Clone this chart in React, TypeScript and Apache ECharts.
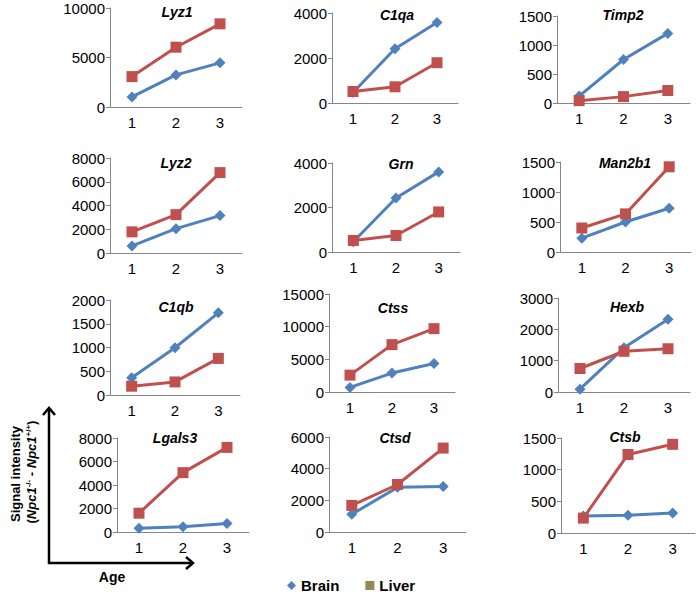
import React, { useEffect, useRef } from "react";
import * as echarts from "echarts";

// ---- Data ----
const ages = ["1", "2", "3"];
const genes = ["Lyz1", "C1qa", "Timp2", "Lyz2", "Grn", "Man2b1", "C1qb", "Ctss", "Hexb", "Lgals3", "Ctsd", "Ctsb"];

const lyz1Brain = [1020, 3240, 4460];
const lyz1Liver = [3070, 6040, 8400];
const c1qaBrain = [470, 2410, 3580];
const c1qaLiver = [510, 720, 1790];
const timp2Brain = [120, 750, 1200];
const timp2Liver = [40, 110, 215];
const lyz2Brain = [600, 2050, 3150];
const lyz2Liver = [1780, 3230, 6770];
const grnBrain = [460, 2430, 3600];
const grnLiver = [520, 740, 1800];
const man2b1Brain = [230, 500, 730];
const man2b1Liver = [400, 635, 1420];
const c1qbBrain = [365, 995, 1730];
const c1qbLiver = [185, 275, 770];
const ctssBrain = [700, 2900, 4350];
const ctssLiver = [2580, 7250, 9700];
const hexbBrain = [90, 1410, 2320];
const hexbLiver = [750, 1300, 1380];
const lgals3Brain = [320, 450, 720];
const lgals3Liver = [1600, 5050, 7200];
const ctsdBrain = [1120, 2820, 2880];
const ctsdLiver = [1680, 3000, 5300];
const ctsbBrain = [270, 280, 315];
const ctsbLiver = [235, 1240, 1400];

const brainData = [lyz1Brain, c1qaBrain, timp2Brain, lyz2Brain, grnBrain, man2b1Brain, c1qbBrain, ctssBrain, hexbBrain, lgals3Brain, ctsdBrain, ctsbBrain];
const liverData = [lyz1Liver, c1qaLiver, timp2Liver, lyz2Liver, grnLiver, man2b1Liver, c1qbLiver, ctssLiver, hexbLiver, lgals3Liver, ctsdLiver, ctsbLiver];

// y-axis tick settings per panel
const yMax = [10000, 4000, 1500, 8000, 4000, 1500, 2000, 15000, 3000, 8000, 6000, 1500];
const yStep = [5000, 2000, 500, 2000, 2000, 500, 500, 5000, 1000, 2000, 2000, 500];

// ---- Layout ----
const layout = [
  { left: 110, top: 8, width: 132, height: 99, tx: 177, ty: 12 },
  { left: 332, top: 13, width: 126, height: 90, tx: 397, ty: 15 },
  { left: 557, top: 16, width: 133, height: 87, tx: 623, ty: 15 },
  { left: 110, top: 158, width: 132, height: 95, tx: 176, ty: 163 },
  { left: 332, top: 163, width: 128, height: 89, tx: 401, ty: 164 },
  { left: 560, top: 162, width: 131, height: 90, tx: 625, ty: 163 },
  { left: 110, top: 300, width: 130, height: 95, tx: 176, ty: 307 },
  { left: 329, top: 294, width: 126, height: 98, tx: 393, ty: 308 },
  { left: 558, top: 298, width: 132, height: 94, tx: 627, ty: 307 },
  { left: 117, top: 438, width: 132, height: 94, tx: 175, ty: 438 },
  { left: 329, top: 437, width: 137, height: 95, tx: 395, ty: 438 },
  { left: 561, top: 438, width: 134, height: 95, tx: 625, ty: 437 },
];

const FONT = "Liberation Sans";
const BLUE = "#4F81BD";
const RED = "#C0504D";
const AXIS = "#868686";

export default function App() {
  const ref = useRef<HTMLDivElement>(null);
  useEffect(() => {
    if (!ref.current) return;
    const chart = echarts.init(ref.current, undefined, { renderer: "svg" });

    const grid = layout.map((l) => ({ left: l.left, top: l.top, width: l.width, height: l.height }));
    const xAxis = genes.map((_, i) => ({
      type: "category",
      gridIndex: i,
      data: ages,
      boundaryGap: true,
      axisLine: { lineStyle: { color: AXIS, width: 1 } },
      axisTick: { length: 4, lineStyle: { color: AXIS } },
      axisLabel: { color: "#000", fontSize: 15, margin: 8, fontFamily: FONT },
    }));
    const yAxis = genes.map((_, i) => ({
      type: "value",
      gridIndex: i,
      min: 0,
      max: yMax[i],
      interval: yStep[i],
      axisLine: { show: true, lineStyle: { color: AXIS, width: 1 } },
      axisTick: { show: true, length: 4, lineStyle: { color: AXIS } },
      splitLine: { show: false },
      axisLabel: {
        color: "#000",
        fontSize: 15,
        margin: 5,
        fontFamily: FONT,
        formatter: (v: number) => String(v),
      },
    }));
    const series: any[] = [];
    genes.forEach((_, i) => {
      series.push({
        type: "line",
        name: "Brain",
        xAxisIndex: i,
        yAxisIndex: i,
        data: brainData[i],
        symbol: "diamond",
        symbolSize: 11,
        color: BLUE,
        lineStyle: { width: 3, color: BLUE },
        itemStyle: { color: BLUE },
      });
      series.push({
        type: "line",
        name: "Liver",
        xAxisIndex: i,
        yAxisIndex: i,
        data: liverData[i],
        symbol: "rect",
        symbolSize: 11,
        color: RED,
        lineStyle: { width: 3, color: RED },
        itemStyle: { color: RED },
      });
    });

    const titles = genes.map((g, i) => ({
      type: "text",
      x: layout[i].tx,
      y: layout[i].ty,
      style: {
        text: g,
        fill: "#000",
        fontSize: 14,
        fontWeight: "bold",
        fontStyle: "italic",
        fontFamily: FONT,
        textAlign: "center",
        textVerticalAlign: "middle",
      },
    }));

    const option: any = {
      animation: false,
      textStyle: { fontFamily: FONT },
      grid,
      xAxis,
      yAxis,
      series,
      legend: {
        left: 287,
        top: 578,
        padding: 0,
        itemWidth: 9,
        itemHeight: 9,
        itemGap: 26,
        textStyle: { fontSize: 15, fontWeight: "bold", color: "#000", fontFamily: FONT },
        data: [
          { name: "Brain", icon: "diamond", itemStyle: { color: BLUE } },
          { name: "Liver", icon: "rect", itemStyle: { color: "#938953" } },
        ],
      },
      graphic: [
        ...titles,
        {
          type: "text",
          x: 15,
          y: 474,
          rotation: Math.PI / 2,
          style: {
            text: "Signal intensity",
            fill: "#000",
            fontSize: 13,
            fontWeight: "bold",
            fontFamily: FONT,
            textAlign: "center",
            textVerticalAlign: "middle",
          },
        },
        {
          type: "text",
          x: 31,
          y: 472,
          rotation: Math.PI / 2,
          style: {
            text: "{n|(}{i|Npc1}{s|-/-}{n| - }{i|Npc1}{s|+/+}{n|)}",
            fill: "#000",
            textAlign: "center",
            textVerticalAlign: "middle",
            rich: {
              n: { fontSize: 13, fontWeight: "bold", fontFamily: FONT, fill: "#000" },
              i: { fontSize: 13, fontWeight: "bold", fontStyle: "italic", fontFamily: FONT, fill: "#000" },
              s: { fontSize: 8, fontWeight: "bold", fontFamily: FONT, verticalAlign: "top", fill: "#000" },
            },
          },
        },
        {
          type: "polyline",
          shape: { points: [[49, 408], [49, 563], [193, 563]] },
          style: { stroke: "#000", lineWidth: 2.5, fill: null },
        },
        {
          type: "polyline",
          shape: { points: [[43, 415], [49, 408], [55, 415]] },
          style: { stroke: "#000", lineWidth: 2.5, fill: null },
        },
        {
          type: "polyline",
          shape: { points: [[186, 557], [193, 563], [186, 569]] },
          style: { stroke: "#000", lineWidth: 2.5, fill: null },
        },
        {
          type: "text",
          x: 112,
          y: 577,
          style: {
            text: "Age",
            fill: "#000",
            fontSize: 14,
            fontWeight: "bold",
            fontFamily: FONT,
            textAlign: "center",
            textVerticalAlign: "middle",
          },
        },
      ],
    };
    chart.setOption(option);
    return () => chart.dispose();
  }, []);

  return (
    <div
      ref={ref}
      style={{ position: "fixed", left: 0, top: 0, width: 699, height: 595, background: "#fff" }}
    />
  );
}
